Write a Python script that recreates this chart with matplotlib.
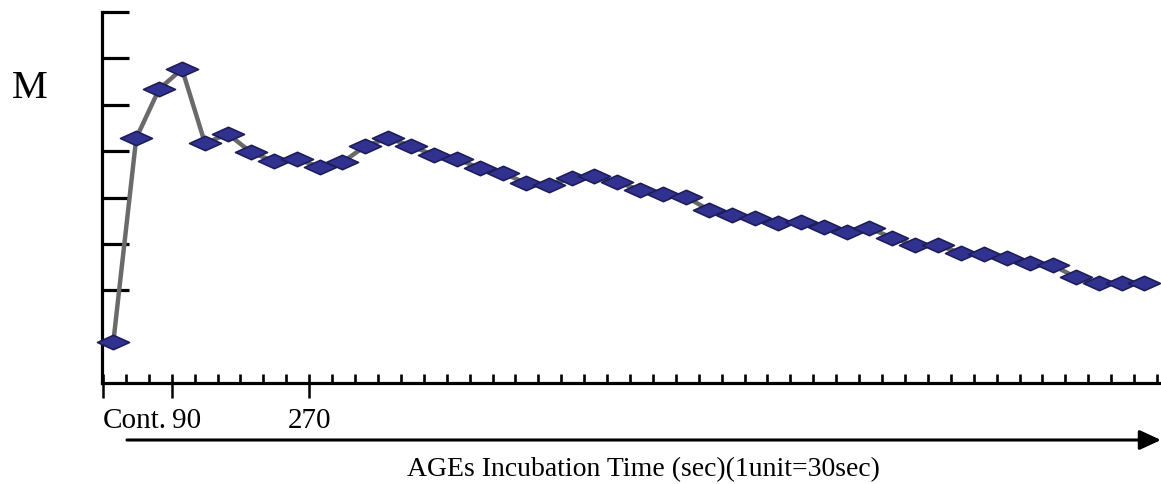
import numpy as np
import matplotlib
matplotlib.use("Agg")
import matplotlib.pyplot as plt
from matplotlib.path import Path
from matplotlib.ticker import FixedLocator, MultipleLocator

# values (y in axis units, one point per 30 s unit)
m_values = [0.88, 5.28, 6.34, 6.77, 5.17, 5.37, 4.98, 4.78, 4.83, 4.66,
            4.76, 5.11, 5.28, 5.11, 4.91, 4.83, 4.63, 4.53, 4.31, 4.27,
            4.42, 4.46, 4.33, 4.16, 4.07, 4.01, 3.73, 3.62, 3.56, 3.45,
            3.47, 3.36, 3.25, 3.34, 3.13, 2.97, 2.97, 2.80, 2.78, 2.69,
            2.59, 2.54, 2.28, 2.16, 2.16, 2.16]
major_ticks = [0, 3, 9]
major_labels = ["Cont.", "90", "270"]
n_units = 46
x_label = "AGEs Incubation Time (sec)(1unit=30sec)"
y_label = "M"

plt.rcParams["font.family"] = ["Liberation Serif", "DejaVu Serif"]

fig = plt.figure(figsize=(11.61, 4.84), dpi=100)
ax = fig.add_axes([102 / 1161, 1 - 383 / 484, 1058 / 1161, 371 / 484])

x = np.arange(len(m_values)) + 0.45

# flattened diamond marker
diamond = Path([(-1, 0), (0, 0.45), (1, 0), (0, -0.45), (-1, 0)],
               [Path.MOVETO, Path.LINETO, Path.LINETO, Path.LINETO, Path.CLOSEPOLY])

ax.plot(x, m_values, color="#6a6a6a", lw=3.2, zorder=2, clip_on=False)
ax.plot(x, m_values, ls="none", marker=diamond, ms=23, mfc="#313190",
        mec="#1d1d5c", mew=1.2, zorder=3, clip_on=False)

ax.set_xlim(-0.044, n_units + 0.13)
ax.set_ylim(0, 8)

for side in ["top", "right"]:
    ax.spines[side].set_visible(False)
for side in ["left", "bottom"]:
    ax.spines[side].set_linewidth(2.3)
    ax.spines[side].set_color("black")

ax.yaxis.set_major_locator(FixedLocator([2, 3, 4, 5, 6, 7, 8]))
ax.tick_params(axis="y", direction="in", length=19.5, width=2.3, labelleft=False)

ax.xaxis.remove_overlapping_locs = False
ax.xaxis.set_major_locator(FixedLocator(major_ticks))
ax.xaxis.set_minor_locator(MultipleLocator(1))
ax.set_xticklabels(major_labels, fontsize=21)
ax.tick_params(axis="x", which="major", direction="out", length=11, width=1.8, pad=7)
ax.tick_params(axis="x", which="minor", direction="in", length=6.5, width=1.9)
for lab, ha in zip(ax.get_xticklabels(), ["left", "left", "center"]):
    lab.set_ha(ha)

# arrow under the axis
ax.annotate("", xy=(1161, 44), xytext=(127, 44), xycoords="figure pixels",
            textcoords="figure pixels",
            arrowprops=dict(arrowstyle="-|>,head_length=1.3,head_width=0.6",
                            lw=2.2, color="black", shrinkA=0, shrinkB=0))

fig.text(643 / 1161, 1 - 470 / 484, x_label, ha="center", va="center", fontsize=20)
fig.text(12 / 1161, 1 - 89 / 484, y_label, ha="left", va="center", fontsize=29)

fig.savefig("out.png", dpi=100)
